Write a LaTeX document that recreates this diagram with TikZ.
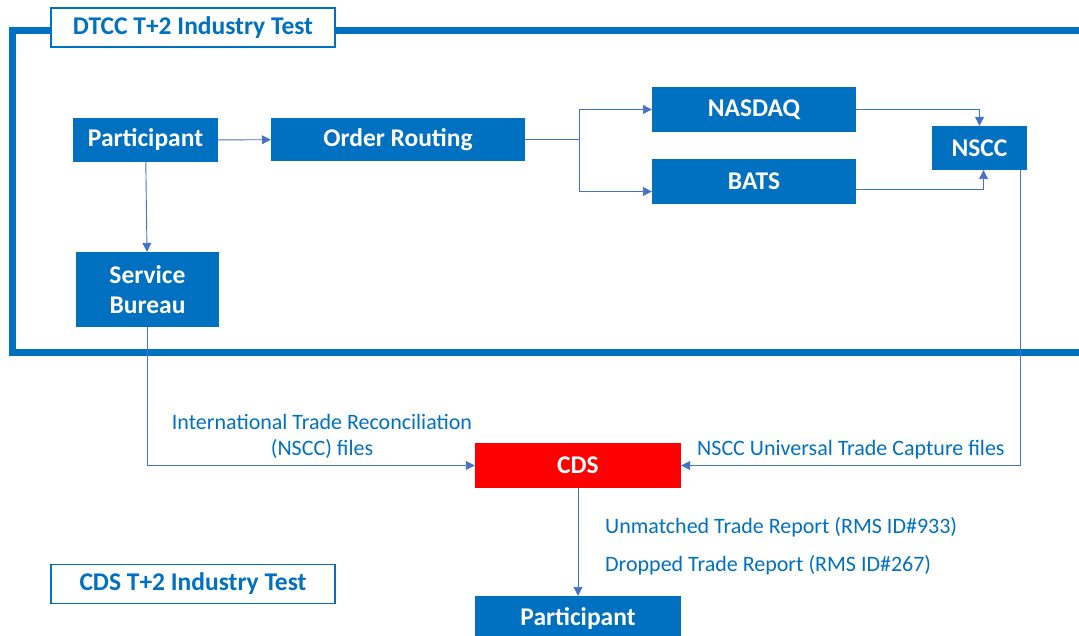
\documentclass[tikz,border=0pt]{standalone}
\usepackage{fontspec}
\setmainfont{Carlito}
\usetikzlibrary{arrows.meta}
\definecolor{dtccblue}{HTML}{0070C0}
\definecolor{linkblue}{HTML}{4472C4}
\definecolor{cdsred}{HTML}{FF0000}

\begin{document}
\begin{tikzpicture}[x=1pt,y=-1pt,
  box/.style={fill=dtccblue,draw=none,text=white,inner sep=0pt,align=center,
    font=\fontsize{25.5}{30}\selectfont\bfseries},
  titlebox/.style={fill=white,draw=dtccblue,line width=1.6pt,text=dtccblue,inner sep=0pt,
    minimum width=284pt,minimum height=39pt,font=\fontsize{25.5}{30}\selectfont\bfseries},
  link/.style={draw=linkblue,line width=0.9pt,-{Triangle[length=9pt,width=9pt]}},
  lbl/.style={text=dtccblue,inner sep=0pt,font=\fontsize{22}{26}\selectfont}]
\useasboundingbox (0,0) rectangle (1079,636);
\draw[dtccblue,line width=7pt] (1090,31)--(12,31)--(12,352)--(1090,352);
%
\node[titlebox] (dtcc) at (193,27.5) {DTCC T+2 Industry Test};
\node[titlebox] (cdstest) at (193,584) {CDS T+2 Industry Test};
%
\node[box,minimum width=145pt,minimum height=44pt] (part) at (145.5,140) {Participant};
\node[box,minimum width=254pt,minimum height=43pt] (route) at (398,139.5) {Order Routing};
\node[box,minimum width=204pt,minimum height=45pt] (nasdaq) at (754,109.5) {NASDAQ};
\node[box,minimum width=204pt,minimum height=45pt] (bats) at (754,181.5) {BATS};
\node[box,minimum width=95pt,minimum height=44pt] (nscc) at (979.5,148) {NSCC};
\node[box,minimum width=143pt,minimum height=75pt] (bureau) at (147.5,289.5) {Service\\Bureau};
\node[box,fill=cdsred,minimum width=206pt,minimum height=45pt] (cds) at (578,465.5) {CDS};
\node[box,minimum width=206pt,minimum height=46pt] (cdspart) at (578,619) {Participant};
%
\draw[link] (part) -- (route);
\draw[draw=linkblue,line width=0.9pt] (route.east) -- ++(54,0) coordinate (split);
\draw[link] (split) |- (nasdaq.west);
\draw[link] (split) |- ([yshift=-10pt]bats.west);
\draw[link] (nasdaq.east) -| (nscc.north);
\draw[link] ([yshift=-8pt]bats.east) -| ([xshift=4pt]nscc.south);
\draw[link] (part) -- (bureau);
\draw[link] (bureau.south) |- (cds.west);
\draw[link] ([xshift=-7pt]nscc.south east) |- (cds.east);
\draw[link] (cds) -- (cdspart);
%
\node[lbl,align=center] (itr) at (322,436) {International Trade Reconciliation\\(NSCC) files};
\node[lbl,anchor=west] (utc) at (697,450) {NSCC Universal Trade Capture files};
\node[lbl,anchor=west] (unmatched) at (605,527) {Unmatched Trade Report (RMS ID\#933)};
\node[lbl,anchor=west] (dropped) at (605,565) {Dropped Trade Report (RMS ID\#267)};
\end{tikzpicture}
\end{document}
